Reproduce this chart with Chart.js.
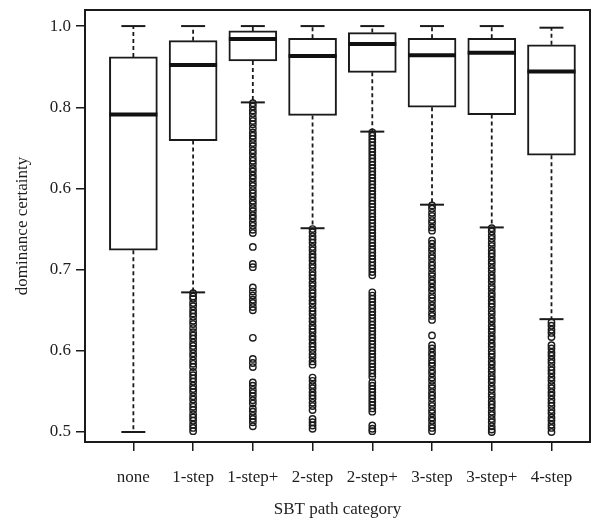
<!DOCTYPE html>
<html>
<head>
<meta charset="utf-8">
<script src="https://cdn.jsdelivr.net/npm/chart.js@4.4.0/dist/chart.umd.min.js"></script>
<style>
  html, body { margin: 0; padding: 0; background: #fff; }
  #wrap { width: 601px; height: 518px; }
</style>
</head>
<body>
<div id="wrap"><canvas id="boxChart"></canvas></div>
<script>
// box plot numbers
const categories = ['none', '1-step', '1-step+', '2-step', '2-step+', '3-step', '3-step+', '4-step'];
const whiskerLow = [0.500, 0.672, 0.906, 0.751, 0.870, 0.780, 0.752, 0.639];
const q1 = [0.724, 0.859, 0.957, 0.890, 0.943, 0.900, 0.891, 0.841];
const median = [0.891, 0.952, 0.984, 0.963, 0.978, 0.964, 0.967, 0.944];
const q3 = [0.962, 0.982, 0.994, 0.985, 0.992, 0.985, 0.985, 0.977];
const whiskerHigh = [1.000, 1.000, 1.000, 1.000, 1.000, 1.000, 1.000, 0.998];

// outliers per category, same order as categories
const outliers = [
  [],
  [0.671, 0.667, 0.664, 0.659, 0.655, 0.650, 0.646, 0.642, 0.637, 0.633, 0.628, 0.623, 0.619, 0.615, 0.610,
   0.606, 0.602, 0.597, 0.593, 0.588, 0.584, 0.580, 0.574, 0.570, 0.566, 0.562, 0.557, 0.553, 0.549, 0.544,
   0.540, 0.535, 0.531, 0.527, 0.522, 0.518, 0.514, 0.509, 0.505, 0.501],
  [0.905, 0.901, 0.896, 0.892, 0.887, 0.883, 0.879, 0.874, 0.869, 0.865, 0.861, 0.856, 0.852, 0.847, 0.843,
   0.838, 0.834, 0.830, 0.825, 0.821, 0.816, 0.812, 0.807, 0.803, 0.798, 0.794, 0.790, 0.785, 0.781, 0.776,
   0.772, 0.767, 0.763, 0.758, 0.754, 0.749, 0.745, 0.728, 0.707, 0.703, 0.678, 0.673, 0.668, 0.663, 0.659,
   0.654, 0.650, 0.616, 0.590, 0.585, 0.580, 0.561, 0.557, 0.552, 0.548, 0.544, 0.539, 0.535, 0.529, 0.525,
   0.520, 0.516, 0.512, 0.507],
  [0.750, 0.746, 0.741, 0.737, 0.733, 0.728, 0.724, 0.719, 0.715, 0.711, 0.706, 0.702, 0.697, 0.693, 0.689,
   0.684, 0.680, 0.675, 0.671, 0.667, 0.662, 0.658, 0.653, 0.649, 0.645, 0.640, 0.636, 0.631, 0.627, 0.623,
   0.618, 0.614, 0.609, 0.605, 0.601, 0.596, 0.592, 0.587, 0.583, 0.567, 0.563, 0.558, 0.554, 0.549, 0.545,
   0.541, 0.536, 0.532, 0.527, 0.516, 0.512, 0.508, 0.504],
  [0.869, 0.865, 0.861, 0.857, 0.853, 0.849, 0.845, 0.841, 0.837, 0.833, 0.829, 0.825, 0.821, 0.817, 0.813,
   0.809, 0.805, 0.801, 0.797, 0.793, 0.789, 0.785, 0.781, 0.777, 0.773, 0.769, 0.765, 0.761, 0.757, 0.753,
   0.749, 0.745, 0.741, 0.737, 0.733, 0.729, 0.725, 0.721, 0.717, 0.713, 0.709, 0.705, 0.701, 0.697, 0.693,
   0.672, 0.668, 0.664, 0.660, 0.656, 0.652, 0.648, 0.644, 0.640, 0.636, 0.632, 0.628, 0.624, 0.620, 0.616,
   0.612, 0.608, 0.604, 0.600, 0.596, 0.592, 0.588, 0.584, 0.580, 0.576, 0.572, 0.568, 0.561, 0.557, 0.553,
   0.549, 0.545, 0.541, 0.537, 0.533, 0.529, 0.525, 0.508, 0.504, 0.501],
  [0.779, 0.775, 0.770, 0.766, 0.761, 0.757, 0.752, 0.748, 0.736, 0.732, 0.727, 0.723, 0.718, 0.714, 0.709,
   0.705, 0.701, 0.696, 0.692, 0.687, 0.683, 0.678, 0.674, 0.669, 0.665, 0.661, 0.656, 0.652, 0.647, 0.643,
   0.638, 0.619, 0.607, 0.603, 0.598, 0.594, 0.589, 0.585, 0.581, 0.576, 0.572, 0.567, 0.563, 0.558, 0.554,
   0.549, 0.545, 0.541, 0.536, 0.532, 0.527, 0.523, 0.518, 0.514, 0.509, 0.505, 0.501],
  [0.751, 0.747, 0.742, 0.738, 0.733, 0.729, 0.724, 0.720, 0.716, 0.711, 0.707, 0.702, 0.698, 0.693, 0.689,
   0.685, 0.680, 0.676, 0.671, 0.667, 0.662, 0.658, 0.654, 0.649, 0.645, 0.640, 0.636, 0.631, 0.627, 0.623,
   0.618, 0.614, 0.609, 0.605, 0.600, 0.596, 0.592, 0.587, 0.583, 0.578, 0.574, 0.569, 0.565, 0.561, 0.556,
   0.552, 0.547, 0.543, 0.538, 0.534, 0.530, 0.525, 0.521, 0.516, 0.512, 0.507, 0.503, 0.500],
  [0.635, 0.631, 0.626, 0.622, 0.617, 0.607, 0.603, 0.598, 0.594, 0.589, 0.585, 0.580, 0.576, 0.572, 0.567,
   0.563, 0.558, 0.554, 0.549, 0.545, 0.540, 0.536, 0.532, 0.527, 0.523, 0.518, 0.514, 0.509, 0.505, 0.500]
];

// tick labels exactly as printed on the figure
const yTickValues = [0.5, 0.6, 0.7, 0.8, 0.9, 1.0];
const yTickLabels = ['0.5', '0.6', '0.7', '0.6', '0.8', '1.0'];

const xPos = categories.map((c, i) => i + 1);

const boxData = xPos.map((x, i) => ({ x: x, y: [q1[i], q3[i]] }));
const medianData = xPos.map((x, i) => ({ x: x, y: median[i] }));
const capData = [];
const whiskerData = [];
xPos.forEach((x, i) => {
    capData.push({ x: x, y: whiskerHigh[i] }, { x: x, y: whiskerLow[i] });
    whiskerData.push(
        { x: x, y: q3[i] }, { x: x, y: whiskerHigh[i] }, { x: x, y: null },
        { x: x, y: q1[i] }, { x: x, y: whiskerLow[i] }, { x: x, y: null }
    );
});
const outlierData = [];
outliers.forEach((list, i) => {
    list.forEach(v => outlierData.push({ x: xPos[i], y: v }));
});

const frame = {
    id: 'frame',
    afterDatasetsDraw(chart) {
        const a = chart.chartArea;
        const ctx = chart.ctx;
        ctx.save();
        ctx.strokeStyle = '#1a1a1a';
        ctx.lineWidth = 2;
        ctx.strokeRect(a.left, a.top, a.right - a.left, a.bottom - a.top);
        ctx.restore();
    }
};

Chart.defaults.font.family = '"Liberation Serif", "Times New Roman", serif';
Chart.defaults.font.size = 17;
Chart.defaults.color = '#1e1e1e';

const ctx = document.getElementById('boxChart').getContext('2d');

new Chart(ctx, {
    type: 'scatter',
    data: {
        datasets: [
            {
                type: 'line',
                label: 'whiskers',
                data: whiskerData,
                borderColor: '#1a1a1a',
                borderWidth: 1.8,
                borderDash: [4, 3],
                pointRadius: 0,
                spanGaps: false,
                fill: false,
                order: 5
            },
            {
                type: 'bar',
                label: 'box',
                data: boxData,
                backgroundColor: '#fff',
                borderColor: '#1a1a1a',
                borderWidth: 2,
                borderSkipped: false,
                barThickness: 48,
                order: 4
            },
            {
                label: 'median',
                data: medianData,
                pointStyle: 'line',
                pointRadius: 24,
                pointHoverRadius: 24,
                pointBorderWidth: 4,
                pointBorderColor: '#111',
                order: 3
            },
            {
                label: 'caps',
                data: capData,
                pointStyle: 'line',
                pointRadius: 12,
                pointHoverRadius: 12,
                pointBorderWidth: 2,
                pointBorderColor: '#1a1a1a',
                order: 2
            },
            {
                label: 'outliers',
                data: outlierData,
                pointStyle: 'circle',
                pointRadius: 3.2,
                pointBorderWidth: 1.4,
                pointBackgroundColor: 'rgba(0,0,0,0)',
                pointBorderColor: '#1a1a1a',
                order: 1
            }
        ]
    },
    options: {
        responsive: true,
        maintainAspectRatio: false,
        animation: false,
        layout: {
            autoPadding: false,
            padding: { top: 10, right: 11, left: 0, bottom: 0 }
        },
        plugins: {
            legend: { display: false },
            tooltip: { enabled: false }
        },
        scales: {
            x: {
                type: 'linear',
                min: 0.19,
                max: 8.645,
                offset: false,
                border: { display: false },
                grid: {
                    display: true,
                    offset: false,
                    drawOnChartArea: false,
                    drawTicks: true,
                    tickLength: 9,
                    color: '#1a1a1a',
                    lineWidth: 1.5
                },
                ticks: {
                    autoSkip: false,
                    maxRotation: 0,
                    padding: 16,
                    callback: function(value) {
                        return categories[Math.round(value) - 1];
                    }
                },
                afterBuildTicks: function(axis) {
                    axis.ticks = xPos.map(v => ({ value: v }));
                },
                afterFit: function(axis) {
                    axis.height = 76;
                    axis.paddingLeft = 0;
                    axis.paddingRight = 0;
                },
                title: {
                    display: true,
                    text: 'SBT path category',
                    padding: { top: 0, bottom: -2 }
                }
            },
            y: {
                type: 'linear',
                min: 0.4877,
                max: 1.0198,
                border: { display: false },
                grid: {
                    display: true,
                    drawOnChartArea: false,
                    drawTicks: true,
                    tickLength: 9,
                    color: '#1a1a1a',
                    lineWidth: 1.5
                },
                ticks: {
                    padding: 5,
                    callback: function(value, index) {
                        return yTickLabels[index];
                    }
                },
                afterBuildTicks: function(axis) {
                    axis.ticks = yTickValues.map(v => ({ value: v }));
                },
                afterFit: function(axis) {
                    axis.width = 85;
                    axis.paddingTop = 0;
                    axis.paddingBottom = 0;
                },
                title: {
                    display: true,
                    text: 'dominance certainty',
                    padding: { top: 12, bottom: 0 }
                }
            }
        }
    },
    plugins: [frame]
});
</script>
</body>
</html>
